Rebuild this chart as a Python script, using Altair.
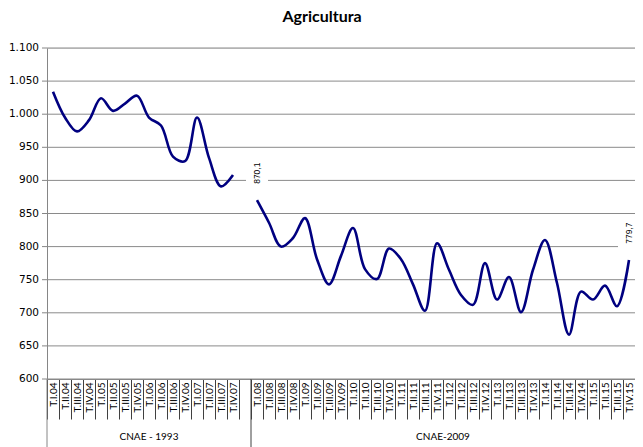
import altair as alt
import pandas as pd

# ---- data -------------------------------------------------------------
years1 = ["04", "05", "06", "07"]
years2 = ["08", "09", "10", "11", "12", "13", "14", "15"]
quarters = ["T.I.", "T.II.", "T.III.", "T.IV."]
cats1 = [q + y for y in years1 for q in quarters]
cats2 = [q + y for y in years2 for q in quarters]
gap = [" "]
domain = cats1 + gap + cats2

values1 = [1034, 995, 974, 991, 1024, 1005, 1016, 1028,
           995, 983, 936, 929, 995, 934, 891, 908]
values2 = [870.1, 836, 800, 813, 843, 781, 743, 786,
           828, 766, 751, 797, 781, 743, 703, 805,
           765, 727, 712, 775, 720, 754, 701, 765,
           810, 745, 667, 732, 720, 741, 710, 779.7]
groups = ["CNAE - 1993", "CNAE-2009"]
title = "Agricultura"
y_ticks = [600, 650, 700, 750, 800, 850, 900, 950, 1000, 1050, 1100]

df = pd.DataFrame({
    "cat": cats1 + cats2,
    "value": values1 + values2,
    "seg": [groups[0]] * len(cats1) + [groups[1]] * len(cats2),
})

lab = pd.DataFrame({
    "cat": [cats2[0], cats2[-1]],
    "value": [values2[0], values2[-1]],
})
lab["text"] = [f"{v:.1f}".replace(".", ",") for v in lab["value"]]

ydf = pd.DataFrame({"value": y_ticks})
ydf["text"] = [f"{v:,}".replace(",", ".") for v in y_ticks]

W, H = 588, 331
xscale = alt.Scale(type="band", domain=domain, paddingInner=0, paddingOuter=0)
yscale = alt.Scale(domain=[600, 1100], zero=False, nice=False)

xaxis = alt.Axis(
    title=None, labelAngle=270, labelFont="Lato", labelFontSize=10,
    labelColor="black", labelOverlap=False, labelBound=False,
    tickBand="extent", tickSize=40, tickColor="#404040", tickWidth=1,
    labelPadding=-37, domainColor="#868686", grid=False,
)
yaxis = alt.Axis(
    title=None, grid=False, labels=False, ticks=False,
    domainColor="#868686",
)

grid = alt.Chart(ydf).mark_rule(color="#8a8a8a", strokeWidth=1).encode(
    y=alt.Y("value:Q", scale=yscale, axis=yaxis),
    x=alt.value(0),
    x2=alt.value(W),
)
yticks = alt.Chart(ydf).mark_rule(color="#868686", strokeWidth=1).encode(
    y=alt.Y("value:Q", scale=yscale, axis=yaxis),
    x=alt.value(-5),
    x2=alt.value(0),
)
ylabels = alt.Chart(ydf).mark_text(
    align="right", baseline="middle", font="DejaVu Sans", fontSize=10.5,
    color="black",
).encode(
    y=alt.Y("value:Q", scale=yscale, axis=yaxis),
    x=alt.value(-8),
    text="text:N",
)

line = alt.Chart(df).mark_line(
    interpolate="catmull-rom", color="#000080", strokeWidth=2.6
).encode(
    x=alt.X("cat:N", scale=xscale, sort=domain, axis=xaxis),
    y=alt.Y("value:Q", scale=yscale, axis=yaxis),
    detail="seg:N",
)

box = alt.Chart(lab).transform_calculate(
    y1="datum.value + 18", y2="datum.value + 66"
).mark_bar(color="white", width=22).encode(
    x=alt.X("cat:N", scale=xscale, axis=xaxis),
    y=alt.Y("y1:Q", scale=yscale, axis=yaxis),
    y2="y2:Q",
)

labels = alt.Chart(lab).mark_text(
    angle=270, font="Liberation Sans", fontSize=8.5, color="black",
    dx=27, align="center", baseline="middle",
).encode(
    x=alt.X("cat:N", scale=xscale, axis=xaxis),
    y=alt.Y("value:Q", scale=yscale, axis=yaxis),
    text="text:N",
)

grp_df = pd.DataFrame({"cat": [cats1[8], cats2[16]], "label": groups})
grp1 = alt.Chart(grp_df.iloc[[0]]).mark_text(
    font="Lato", fontSize=10, color="black", baseline="middle"
).encode(
    x=alt.X("cat:N", scale=xscale, axis=xaxis),
    y=alt.value(H + 58),
    text="label:N",
)
grp2 = alt.Chart(grp_df.iloc[[1]]).mark_text(
    font="Lato", fontSize=10, color="black", baseline="middle"
).encode(
    x=alt.X("cat:N", scale=xscale, axis=xaxis, bandPosition=0),
    y=alt.value(H + 58),
    text="label:N",
)

div_df = pd.DataFrame({"cat": [cats2[0]]})
divider = alt.Chart(div_df).mark_rule(color="#404040", strokeWidth=1).encode(
    x=alt.X("cat:N", scale=xscale, axis=xaxis, bandPosition=0),
    y=alt.value(H),
    y2=alt.value(H + 70),
)
left_ext = alt.Chart(div_df).mark_rule(color="#868686", strokeWidth=1).encode(
    x=alt.value(0),
    y=alt.value(H),
    y2=alt.value(H + 70),
)

chart = alt.layer(
    grid, yticks, ylabels, line, box, labels, grp1, grp2, divider, left_ext
).properties(
    width=W, height=H,
    title=alt.TitleParams(
        text=title, font="Lato", fontSize=16, fontWeight="bold",
        color="black", anchor="middle", frame="group", dx=-19, offset=18,
    ),
    autosize=alt.AutoSizeParams(type="none"),
    padding={"left": 39, "top": 40, "right": 0, "bottom": 68},
).configure_view(strokeWidth=0).configure(background="white")

chart.save("out.html", embed_options={"renderer": "svg", "actions": False})
